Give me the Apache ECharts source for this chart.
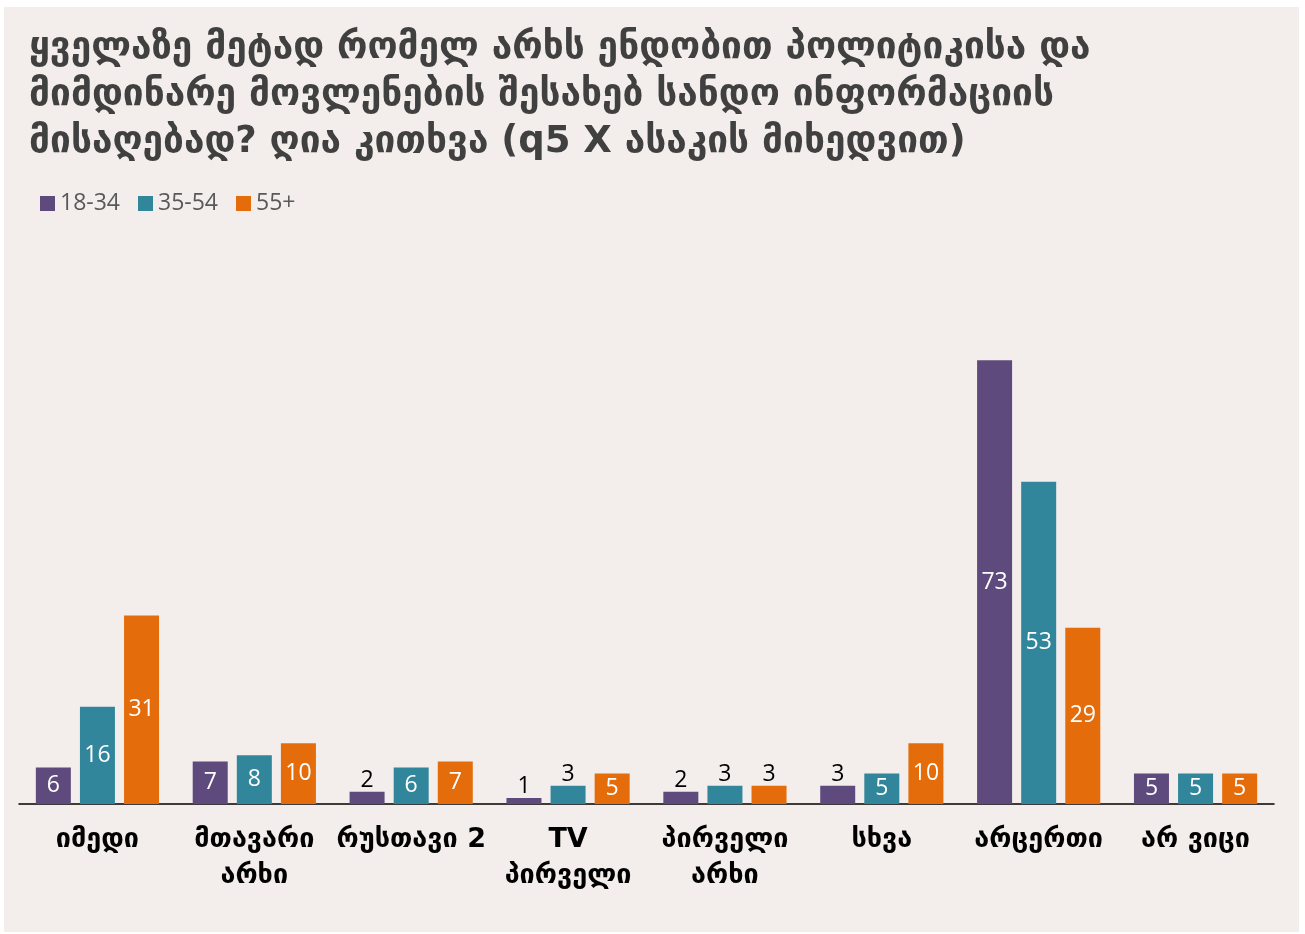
<!DOCTYPE html>
<html><head><meta charset="utf-8">
<script src="https://cdn.jsdelivr.net/npm/echarts@6/dist/echarts.min.js"></script>
<style>html,body{margin:0;padding:0;background:#fff}#c{width:1305px;height:934px}</style>
</head><body><div id="c"></div>
<script>
const titleText = "ყველაზე მეტად რომელ არხს ენდობით პოლიტიკისა და\nმიმდინარე მოვლენების შესახებ სანდო ინფორმაციის\nმისაღებად? ღია კითხვა (q5 X ასაკის მიხედვით)";
const categories = ["იმედი", "მთავარი\nარხი", "რუსთავი 2", "TV\nპირველი", "პირველი\nარხი", "სხვა", "არცერთი", "არ ვიცი"];
const seriesNames = ["18-34", "35-54", "55+"];
const age18_34 = [6, 7, 2, 1, 2, 3, 73, 5];
const age35_54 = [16, 8, 6, 3, 3, 5, 53, 5];
const age55 = [31, 10, 7, 5, 3, 10, 29, 5];
const colors = ["#5E4A7D", "#31869B", "#E46C0A"];

const chart = echarts.init(document.getElementById('c'));
function mkData(arr){
  return arr.map(v => ({
    value: v,
    label: v <= 3 ? {position: 'top', color: '#000', distance: 0} : {position: 'inside', color: '#fff'}
  }));
}
const allData = [age18_34, age35_54, age55];
chart.setOption({
  backgroundColor: '#ffffff',
  animation: false,
  graphic: [{type: 'rect', shape: {x: 4, y: 7, width: 1295, height: 925}, style: {fill: '#F3EEEB'}, z: -10}],
  title: {
    text: titleText, left: 24, top: 20,
    textStyle: {fontFamily: 'DejaVu Sans', fontWeight: 'bold', fontSize: 37, color: '#404040', lineHeight: 47}
  },
  legend: {
    data: seriesNames, left: 35, top: 187, itemWidth: 15, itemHeight: 15, itemGap: 18,
    icon: 'rect',
    textStyle: {fontFamily: 'Open Sans', fontSize: 23, color: '#595959'}
  },
  grid: {left: 19, right: 31, top: 199, bottom: 130, containLabel: false},
  xAxis: {
    type: 'category', data: categories,
    axisLine: {lineStyle: {color: '#000', width: 1.5}},
    axisTick: {show: false},
    axisLabel: {interval: 0, margin: 18, fontFamily: 'DejaVu Sans', fontWeight: 'bold', fontSize: 27, color: '#000', lineHeight: 36}
  },
  yAxis: {type: 'value', min: 0, max: 99.5, show: false, splitLine: {show: false}},
  series: seriesNames.map((n, i) => ({
    name: n, type: 'bar', data: mkData(allData[i]),
    itemStyle: {color: colors[i]},
    barWidth: 35, barGap: '26%', barCategoryGap: '22%',
    label: {show: true, fontFamily: 'Open Sans', fontSize: 23}
  }))
});
</script></body></html>
